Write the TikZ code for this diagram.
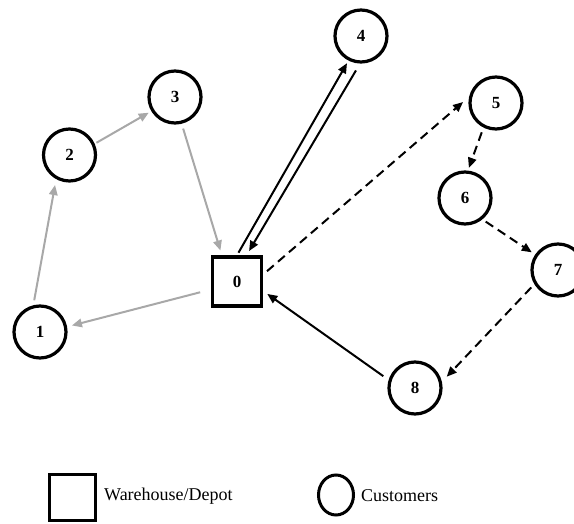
\documentclass[tikz,border=0pt]{standalone}
\usepackage{fontspec}
\setmainfont{Liberation Serif}
\usetikzlibrary{arrows.meta,shapes.geometric}
\definecolor{edgegray}{RGB}{168,168,168}
\begin{document}
\begin{tikzpicture}[x=1pt,y=-1pt,
  cust/.style={circle,draw,line width=3.2pt,minimum size=52pt,inner sep=0pt,font=\fontsize{17}{17}\selectfont\bfseries},
  depot/.style={rectangle,draw,line width=3.4pt,minimum size=49pt,inner sep=0pt,font=\fontsize{17}{17}\selectfont\bfseries},
  tip/.style={-{Triangle[length=10pt,width=8.5pt]}},
  grayedge/.style={tip,draw=edgegray,line width=2pt},
  blackedge/.style={tip,draw=black,line width=2pt},
  dashedge/.style={blackedge,dash pattern=on 9pt off 5.5pt},
  legtext/.style={anchor=west,inner sep=0pt,font=\fontsize{18}{18}\selectfont}
  ]
\useasboundingbox (0,0) rectangle (574,524);
\node[depot] (n0) at (237,281.5) {0};
\node[cust] (n1) at (40,332) {1};
\node[cust] (n2) at (69.5,155) {2};
\node[cust] (n3) at (175,97) {3};
\node[cust] (n4) at (361,36) {4};
\node[cust] (n5) at (496,103) {5};
\node[cust] (n6) at (465,198) {6};
\node[cust] (n7) at (558,270) {7};
\node[cust] (n8) at (415,388) {8};
% grey route
\draw[grayedge,shorten <=11pt,shorten >=5pt] (n0.197.5) -- (n1.11);
\draw[grayedge,shorten <=5pt,shorten >=6pt] (n1.104) -- (n2.241);
\draw[grayedge,shorten <=2pt,shorten >=3pt] (n2.24) -- (n3.211);
\draw[grayedge,shorten <=5pt,shorten >=5pt] (n3.284) -- (n0.120);
% black solid route
\draw[blackedge,shorten <=3pt,shorten >=3pt] (n0.north) -- (n4.243);
\draw[blackedge,shorten <=8pt,shorten >=5pt] (n4.268) -- (n0.70);
% dashed route
\draw[dashedge,shorten <=5pt,shorten >=8pt] (n0.15) -- (n5.167);
\draw[dashedge,shorten <=5pt,shorten >=3pt] (n5.243) -- (n6.84);
\draw[dashedge,shorten <=4pt,shorten >=4pt] (n6.-51) -- (n7.146);
\draw[dashedge,shorten <=4.5pt,shorten >=7pt] (n7.211) -- (n8.13);
\draw[blackedge,shorten <=6.5pt,shorten >=5pt] (n8.163) -- (n0.-20);
% legend
\node[rectangle,draw,line width=3.4pt,minimum size=46pt,inner sep=0pt] (lsq) at (72.5,497.5) {};
\node[legtext] (lsqt) at (104,496) {Warehouse/Depot};
\node[ellipse,draw,line width=3pt,minimum width=35pt,minimum height=40pt,inner sep=0pt] (lci) at (336,495) {};
\node[legtext] (lcit) at (361,496) {Customers};
\end{tikzpicture}
\end{document}
